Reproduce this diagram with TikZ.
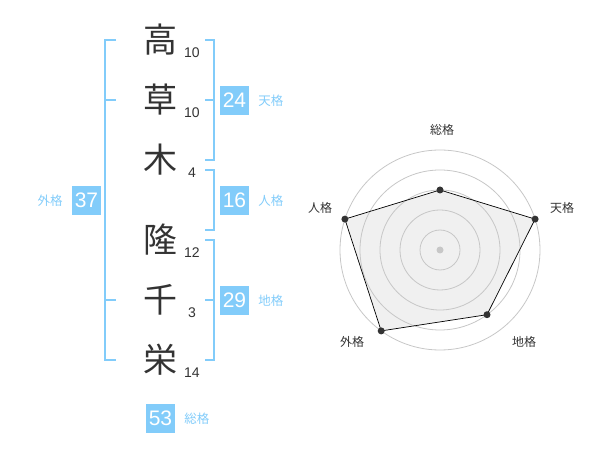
\documentclass[tikz,border=0pt]{standalone}
\usepackage{fontspec}
\setmainfont{Liberation Sans}
\newfontfamily\jp{Noto Sans CJK JP}
\usetikzlibrary{positioning}
\definecolor{kakublue}{RGB}{130,204,250}
\definecolor{inkgray}{RGB}{51,51,51}
\tikzstyle{kanji} = [font=\jp\fontsize{34}{34}\selectfont, text=inkgray, inner sep=0pt]
\tikzstyle{strokes} = [font=\fontsize{14}{14}\selectfont, text=inkgray, inner sep=0pt]
\tikzstyle{kakubox} = [fill=kakublue, text=white, minimum size=29pt, inner sep=0pt, font=\fontsize{21}{21}\selectfont]
\tikzstyle{kakuname} = [font=\jp\fontsize{12.5}{12.5}\selectfont, text=kakublue, inner sep=0pt]
\tikzstyle{bracket} = [draw=kakublue, line width=2pt]
\tikzstyle{ring} = [draw=black!22, line width=0.8pt]
\tikzstyle{axisname} = [font=\jp\fontsize{12}{12}\selectfont, text=inkgray, inner sep=0pt]
\tikzstyle{dot} = [circle, fill=inkgray, inner sep=0pt, minimum size=7pt]

\begin{document}
\begin{tikzpicture}[x=1pt, y=-1pt]
\useasboundingbox (0,0) rectangle (600,470);
% name characters and stroke counts
\node [kanji] (k1) at (160,40) {高};
\node [kanji] (k2) at (160,100) {草};
\node [kanji] (k3) at (160,160) {木};
\node [kanji] (k4) at (160,240) {隆};
\node [kanji] (k5) at (160,300) {千};
\node [kanji] (k6) at (160,360) {栄};
\node [strokes] (s1) at (192,53) {10};
\node [strokes] (s2) at (192,113) {10};
\node [strokes] (s3) at (192,173) {4};
\node [strokes] (s4) at (192,253) {12};
\node [strokes] (s5) at (192,313) {3};
\node [strokes] (s6) at (192,373) {14};
% brackets
\draw [bracket] (116,40) -- (105,40) -- (105,360) -- (116,360);
\draw [bracket] (105,100) -- (116,100);
\draw [bracket] (105,300) -- (116,300);
\draw [bracket] (205,40) -- (214,40) -- (214,160) -- (205,160);
\draw [bracket] (214,100) -- (205,100);
\draw [bracket] (205,170) -- (214,170) -- (214,230) -- (205,230);
\draw [bracket] (205,240) -- (214,240) -- (214,360) -- (205,360);
\draw [bracket] (214,300) -- (205,300);
% kaku values
\node [kakubox] (ten) at (234.5,100.5) {24};
\node [kakuname, right=9pt of ten] (tenname) {天格};
\node [kakubox] (jin) at (234.5,200.5) {16};
\node [kakuname, right=9pt of jin] (jinname) {人格};
\node [kakubox] (chi) at (234.5,300.5) {29};
\node [kakuname, right=9pt of chi] (chiname) {地格};
\node [kakubox] (gai) at (86.5,200.5) {37};
\node [kakuname, left=9pt of gai] (gainame) {外格};
\node [kakubox] (sou) at (160.5,418.5) {53};
\node [kakuname, right=9pt of sou] (souname) {総格};
% radar chart
\coordinate (c) at (440,250);
\path (c) ++(0,-60) coordinate (psou)
      (c) ++(95.1,-30.9) coordinate (pten)
      (c) ++(47,64.7) coordinate (pchi)
      (c) ++(-58.8,80.9) coordinate (pgai)
      (c) ++(-95.1,-30.9) coordinate (pjin);
\fill [black!6] (psou) -- (pten) -- (pchi) -- (pgai) -- (pjin) -- cycle;
\foreach \r in {20,40,60,80,100}
  \draw [ring] (c) circle (\r);
\fill [black!22] (c) circle (3.5);
\draw [line width=0.7pt] (psou) -- (pten) -- (pchi) -- (pgai) -- (pjin) -- cycle;
\foreach \p in {psou,pten,pchi,pgai,pjin}
  \node [dot] at (\p) {};
\node [axisname] (asou) at (442,130) {総格};
\node [axisname] (aten) at (562,208) {天格};
\node [axisname] (achi) at (524,342) {地格};
\node [axisname] (agai) at (352,342) {外格};
\node [axisname] (ajin) at (320,208) {人格};
\end{tikzpicture}
\end{document}
